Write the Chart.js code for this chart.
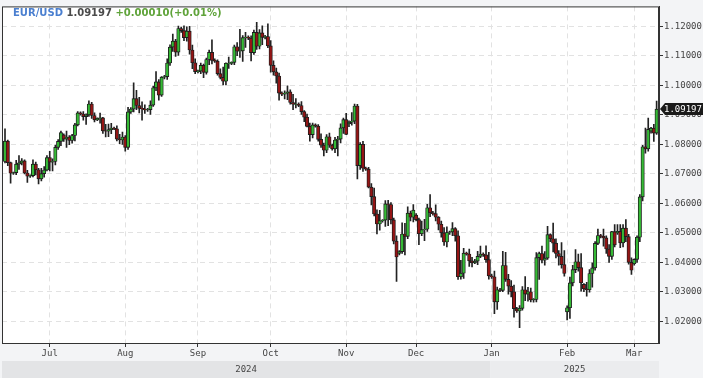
<!DOCTYPE html>
<html>
<head>
<meta charset="utf-8">
<script src="https://cdn.jsdelivr.net/npm/chart.js@4.4.1/dist/chart.umd.min.js"></script>
<style>
  html, body { margin: 0; padding: 0; background: #f3f4f6; }
  #wrap { position: relative; width: 703px; height: 378px; }
  #quote { position: absolute; left: 13px; top: 7px; font: bold 10px "DejaVu Sans", sans-serif; white-space: pre; }
  #quote .sym { color: #4a7fd0; }
  #quote .last { color: #4a4a4a; }
  #quote .chg { color: #5fa33a; }
</style>
</head>
<body>
<div id="wrap">
  <canvas id="myChart"></canvas>
  <div id="quote"><span class="sym">EUR/USD</span> <span class="last">1.09197</span> <span class="chg">+0.00010(+0.01%)</span></div>
</div>
<script>
// daily candles, Jun 12 2024 .. Mar 11 2025 (one row per week: Sun..Fri)
const opens = [
  1.0742, 1.0811, 1.0738,
  1.0702, 1.0704, 1.0733, 1.0737, 1.0744, 1.0703,
  1.0692, 1.0694, 1.0733, 1.0714, 1.0683, 1.0701,
  1.0713, 1.0755, 1.0740, 1.0742, 1.0790, 1.0810,
  1.0832, 1.0818, 1.0825, 1.0813, 1.0830, 1.0866,
  1.0907, 1.0903, 1.0894, 1.0900, 1.0937, 1.0898,
  1.0883, 1.0888, 1.0890, 1.0846, 1.0845, 1.0850,
  1.0855, 1.0853, 1.0818, 1.0815, 1.0825, 1.0790,
  1.0910, 1.0920, 1.0955, 1.0932, 1.0922, 1.0920,
  1.0917, 1.0918, 1.0933, 1.0992, 1.1012, 1.0967,
  1.1028, 1.1030, 1.1076, 1.1130, 1.1150, 1.1113,
  1.1193, 1.1186, 1.1162, 1.1184, 1.1120, 1.1077,
  1.1047, 1.1049, 1.1068, 1.1044, 1.1088, 1.1112,
  1.1085, 1.1082, 1.1040, 1.1027, 1.1014, 1.1075,
  1.1075, 1.1078, 1.1131, 1.1116, 1.1117, 1.1162,
  1.1164, 1.1160, 1.1111, 1.1180, 1.1133, 1.1178,
  1.1163, 1.1166, 1.1134, 1.1068, 1.1046, 1.1032,
  1.0974, 1.0970, 1.0974, 1.0978, 1.0942, 1.0936,
  1.0937, 1.0932, 1.0911, 1.0892, 1.0861, 1.0833,
  1.0866, 1.0862, 1.0817, 1.0797, 1.0780, 1.0826,
  1.0797, 1.0785, 1.0815, 1.0818, 1.0856, 1.0884,
  1.0870, 1.0875, 1.0879, 1.0930, 1.0728, 1.0800,
  1.0719, 1.0716, 1.0655, 1.0623, 1.0564, 1.0530,
  1.0541, 1.0543, 1.0598, 1.0596, 1.0544, 1.0472,
  1.0430, 1.0436, 1.0496, 1.0488, 1.0567, 1.0553,
  1.0560, 1.0545, 1.0497, 1.0511, 1.0512, 1.0585,
  1.0568, 1.0565, 1.0553, 1.0529, 1.0500, 1.0469,
  1.0501, 1.0503, 1.0514, 1.0490, 1.0351, 1.0363,
  1.0431, 1.0428, 1.0405, 1.0398, 1.0404, 1.0420,
  1.0428, 1.0425, 1.0409, 1.0354, 1.0351, 1.0266,
  1.0307, 1.0305, 1.0389, 1.0342, 1.0319, 1.0300,
  1.0243, 1.0235, 1.0244, 1.0307, 1.0292, 1.0300,
  1.0272, 1.0274, 1.0416, 1.0430, 1.0407, 1.0414,
  1.0494, 1.0480, 1.0465, 1.0430, 1.0420, 1.0392,
  1.0232, 1.0246, 1.0330, 1.0375, 1.0402, 1.0382,
  1.0325, 1.0310, 1.0307, 1.0362, 1.0381, 1.0464,
  1.0491, 1.0488, 1.0483, 1.0445, 1.0420, 1.0504,
  1.0500, 1.0505, 1.0466, 1.0516, 1.0487, 1.0400,
  1.0395, 1.0410, 1.0485, 1.0622, 1.0792, 1.0785,
  1.0845, 1.0855, 1.0838
];
const highs = [
  1.0853, 1.0815, 1.0740,
  1.0706, 1.0746, 1.0762, 1.0752, 1.0748, 1.0712,
  1.0697, 1.0748, 1.0740, 1.0719, 1.0719, 1.0725,
  1.0762, 1.0776, 1.0751, 1.0798, 1.0816, 1.0845,
  1.0836, 1.0845, 1.0830, 1.0834, 1.0871, 1.0911,
  1.0910, 1.0911, 1.0904, 1.0948, 1.0943, 1.0907,
  1.0890, 1.0906, 1.0892, 1.0868, 1.0869, 1.0871,
  1.0859, 1.0863, 1.0834, 1.0842, 1.0830, 1.0926,
  1.0925, 1.1009, 1.0983, 1.0960, 1.0944, 1.0934,
  1.0922, 1.0948, 1.0998, 1.1047, 1.1020, 1.1030,
  1.1034, 1.1090, 1.1138, 1.1174, 1.1156, 1.1201,
  1.1198, 1.1202, 1.1199, 1.1200, 1.1137, 1.1090,
  1.1052, 1.1076, 1.1072, 1.1093, 1.1120, 1.1155,
  1.1090, 1.1087, 1.1056, 1.1062, 1.1077, 1.1096,
  1.1080, 1.1137, 1.1145, 1.1190, 1.1169, 1.1180,
  1.1168, 1.1168, 1.1188, 1.1214, 1.1189, 1.1202,
  1.1170, 1.1209, 1.1152, 1.1083, 1.1059, 1.1042,
  1.0978, 1.0982, 1.0999, 1.0985, 1.0970, 1.0955,
  1.0941, 1.0945, 1.0915, 1.0903, 1.0872, 1.0872,
  1.0870, 1.0867, 1.0836, 1.0804, 1.0833, 1.0838,
  1.0801, 1.0824, 1.0827, 1.0870, 1.0889, 1.0905,
  1.0880, 1.0908, 1.0937, 1.0936, 1.0806, 1.0810,
  1.0723, 1.0722, 1.0667, 1.0652, 1.0578, 1.0576,
  1.0545, 1.0609, 1.0610, 1.0603, 1.0550, 1.0490,
  1.0440, 1.0534, 1.0532, 1.0588, 1.0574, 1.0596,
  1.0565, 1.0550, 1.0540, 1.0546, 1.0597, 1.0630,
  1.0573, 1.0595, 1.0555, 1.0540, 1.0518, 1.0520,
  1.0506, 1.0535, 1.0518, 1.0507, 1.0407, 1.0447,
  1.0435, 1.0445, 1.0417, 1.0410, 1.0437, 1.0455,
  1.0432, 1.0456, 1.0434, 1.0360, 1.0370, 1.0316,
  1.0312, 1.0437, 1.0434, 1.0359, 1.0338, 1.0323,
  1.0247, 1.0253, 1.0318, 1.0352, 1.0315, 1.0313,
  1.0277, 1.0433, 1.0435, 1.0455, 1.0436, 1.0522,
  1.0497, 1.0533, 1.0480, 1.0440, 1.0467, 1.0440,
  1.0252, 1.0350, 1.0390, 1.0443, 1.0428, 1.0430,
  1.0328, 1.0332, 1.0375, 1.0398, 1.0470, 1.0513,
  1.0495, 1.0513, 1.0490, 1.0460, 1.0505, 1.0528,
  1.0528, 1.0528, 1.0528, 1.0545, 1.0495, 1.0415,
  1.0412, 1.0490, 1.0630, 1.0797, 1.0855, 1.0889,
  1.0858, 1.0868, 1.0947
];
const lows = [
  1.0737, 1.0728, 1.0668,
  1.0698, 1.0697, 1.0715, 1.0730, 1.0700, 1.0671,
  1.0688, 1.0690, 1.0696, 1.0666, 1.0676, 1.0689,
  1.0710, 1.0710, 1.0710, 1.0730, 1.0783, 1.0796,
  1.0810, 1.0790, 1.0799, 1.0804, 1.0812, 1.0863,
  1.0899, 1.0882, 1.0868, 1.0895, 1.0888, 1.0876,
  1.0880, 1.0872, 1.0837, 1.0825, 1.0826, 1.0836,
  1.0850, 1.0812, 1.0802, 1.0800, 1.0777, 1.0783,
  1.0905, 1.0910, 1.0918, 1.0907, 1.0882, 1.0905,
  1.0912, 1.0902, 1.0929, 1.0982, 1.0950, 1.0963,
  1.1022, 1.1020, 1.1068, 1.1115, 1.1098, 1.1102,
  1.1180, 1.1152, 1.1150, 1.1106, 1.1057, 1.1040,
  1.1042, 1.1040, 1.1026, 1.1038, 1.1070, 1.1073,
  1.1078, 1.1035, 1.1022, 1.1002, 1.1002, 1.1058,
  1.1070, 1.1070, 1.1101, 1.1095, 1.1081, 1.1129,
  1.1155, 1.1083, 1.1105, 1.1122, 1.1124, 1.1138,
  1.1158, 1.1128, 1.1045, 1.1035, 1.1008, 1.0950,
  1.0965, 1.0954, 1.0952, 1.0936, 1.0918, 1.0924,
  1.0928, 1.0902, 1.0877, 1.0859, 1.0811, 1.0822,
  1.0858, 1.0811, 1.0790, 1.0761, 1.0772, 1.0790,
  1.0780, 1.0772, 1.0761, 1.0805, 1.0837, 1.0833,
  1.0860, 1.0865, 1.0870, 1.0683, 1.0715, 1.0708,
  1.0712, 1.0652, 1.0595, 1.0557, 1.0496, 1.0509,
  1.0536, 1.0522, 1.0524, 1.0530, 1.0462, 1.0335,
  1.0425, 1.0430, 1.0425, 1.0480, 1.0540, 1.0537,
  1.0540, 1.0460, 1.0490, 1.0473, 1.0505, 1.0555,
  1.0560, 1.0540, 1.0510, 1.0485, 1.0457, 1.0452,
  1.0495, 1.0490, 1.0472, 1.0342, 1.0343, 1.0345,
  1.0424, 1.0386, 1.0384, 1.0395, 1.0392, 1.0416,
  1.0420, 1.0400, 1.0343, 1.0345, 1.0226, 1.0240,
  1.0300, 1.0300, 1.0335, 1.0292, 1.0283, 1.0214,
  1.0230, 1.0178, 1.0238, 1.0270, 1.0268, 1.0266,
  1.0265, 1.0266, 1.0342, 1.0398, 1.0390, 1.0410,
  1.0470, 1.0435, 1.0415, 1.0390, 1.0380, 1.0353,
  1.0205, 1.0210, 1.0320, 1.0365, 1.0370, 1.0302,
  1.0300, 1.0285, 1.0299, 1.0316, 1.0373, 1.0460,
  1.0483, 1.0455, 1.0430, 1.0400, 1.0410, 1.0452,
  1.0495, 1.0450, 1.0452, 1.0470, 1.0394, 1.0359,
  1.0390, 1.0400, 1.0470, 1.0608, 1.0770, 1.0777,
  1.0838, 1.0810, 1.0834
];
const closes = [
  1.0811, 1.0738, 1.0702,
  1.0704, 1.0733, 1.0737, 1.0744, 1.0703, 1.0692,
  1.0694, 1.0733, 1.0714, 1.0683, 1.0701, 1.0713,
  1.0755, 1.0740, 1.0742, 1.0790, 1.0810, 1.0840,
  1.0818, 1.0825, 1.0813, 1.0830, 1.0866, 1.0907,
  1.0903, 1.0894, 1.0900, 1.0937, 1.0898, 1.0883,
  1.0888, 1.0890, 1.0846, 1.0845, 1.0850, 1.0855,
  1.0853, 1.0818, 1.0815, 1.0825, 1.0790, 1.0910,
  1.0920, 1.0955, 1.0932, 1.0922, 1.0920, 1.0917,
  1.0918, 1.0933, 1.0992, 1.1012, 1.0967, 1.1028,
  1.1030, 1.1076, 1.1130, 1.1150, 1.1113, 1.1193,
  1.1186, 1.1162, 1.1184, 1.1120, 1.1077, 1.1047,
  1.1049, 1.1068, 1.1044, 1.1088, 1.1112, 1.1085,
  1.1082, 1.1040, 1.1027, 1.1014, 1.1075, 1.1075,
  1.1078, 1.1131, 1.1116, 1.1117, 1.1162, 1.1164,
  1.1160, 1.1111, 1.1180, 1.1133, 1.1178, 1.1163,
  1.1166, 1.1134, 1.1068, 1.1046, 1.1032, 1.0974,
  1.0970, 1.0974, 1.0978, 1.0942, 1.0936, 1.0937,
  1.0932, 1.0911, 1.0892, 1.0861, 1.0833, 1.0866,
  1.0862, 1.0817, 1.0797, 1.0780, 1.0826, 1.0797,
  1.0785, 1.0815, 1.0818, 1.0856, 1.0884, 1.0834,
  1.0875, 1.0879, 1.0930, 1.0728, 1.0800, 1.0719,
  1.0716, 1.0655, 1.0623, 1.0564, 1.0530, 1.0541,
  1.0543, 1.0598, 1.0596, 1.0544, 1.0472, 1.0418,
  1.0436, 1.0496, 1.0488, 1.0567, 1.0553, 1.0577,
  1.0545, 1.0497, 1.0511, 1.0512, 1.0585, 1.0568,
  1.0565, 1.0553, 1.0529, 1.0500, 1.0469, 1.0501,
  1.0503, 1.0514, 1.0490, 1.0351, 1.0363, 1.0431,
  1.0428, 1.0405, 1.0398, 1.0404, 1.0420, 1.0428,
  1.0425, 1.0409, 1.0354, 1.0351, 1.0266, 1.0307,
  1.0305, 1.0389, 1.0342, 1.0319, 1.0300, 1.0243,
  1.0235, 1.0244, 1.0307, 1.0292, 1.0300, 1.0272,
  1.0274, 1.0416, 1.0430, 1.0407, 1.0414, 1.0494,
  1.0480, 1.0465, 1.0430, 1.0420, 1.0392, 1.0362,
  1.0246, 1.0330, 1.0375, 1.0402, 1.0382, 1.0330,
  1.0310, 1.0307, 1.0362, 1.0381, 1.0464, 1.0491,
  1.0488, 1.0483, 1.0445, 1.0420, 1.0504, 1.0459,
  1.0505, 1.0466, 1.0516, 1.0487, 1.0400, 1.0373,
  1.0410, 1.0485, 1.0622, 1.0792, 1.0785, 1.0851,
  1.0855, 1.0838, 1.09197
];

// axes
const monthLabels = ["Jul", "Aug", "Sep", "Oct", "Nov", "Dec", "Jan", "Feb", "Mar"];
const monthIndex = [16, 43, 69, 95, 122, 147, 174, 201, 225];
const yearLabels = ["2024", "2025"];
const yearBounds = [-1.073, 173.5, 233.85];
const priceTicks = [1.02, 1.03, 1.04, 1.05, 1.06, 1.07, 1.08, 1.09, 1.10, 1.11, 1.12];
const lastPrice = 1.09197;

const UP = "#35b935";
const DOWN = "#951515";
const EDGE = "#1d1d1d";
const MONO = "'DejaVu Sans Mono', monospace";

const wickData = highs.map((h, i) => ({ x: i, y: [lows[i], h] }));
const bodyData = opens.map((o, i) => {
  const c = closes[i];
  let lo = Math.min(o, c), hi = Math.max(o, c);
  if (hi - lo < 0.00012) { const m = (hi + lo) / 2; lo = m - 0.00006; hi = m + 0.00006; }
  return { x: i, y: [lo, hi] };
});
const bodyColors = opens.map((o, i) => (closes[i] >= o ? UP : DOWN));

//plot background and year band
const backdrop = {
  id: "backdrop",
  beforeDraw(chart) {
    const { ctx, chartArea: a, scales } = chart;
    ctx.save();
    ctx.fillStyle = "#ffffff";
    ctx.fillRect(a.left, a.top, a.right - a.left, a.bottom - a.top);
    const bandTop = 361, bandH = chart.height - bandTop;
    const bandCols = ["#e3e4e6", "#ebecee"];
    for (let k = 0; k < yearLabels.length; k++) {
      const x1 = scales.x.getPixelForValue(yearBounds[k]);
      const x2 = scales.x.getPixelForValue(yearBounds[k + 1]);
      ctx.fillStyle = bandCols[k];
      ctx.fillRect(x1, bandTop, x2 - x1, bandH);
      ctx.fillStyle = "#444";
      ctx.font = "9px " + MONO;
      ctx.textAlign = "center";
      ctx.textBaseline = "middle";
      ctx.fillText(yearLabels[k], (x1 + x2) / 2, bandTop + 9);
    }
    ctx.restore();
  },
  afterDraw(chart) {
    const { ctx, chartArea: a, scales } = chart;
    ctx.save();
    ctx.strokeStyle = "#333";
    ctx.lineWidth = 1;
    ctx.strokeRect(a.left + 0.5, a.top + 0.5, a.right - a.left - 1, a.bottom - a.top);
    // last price marker
    const y = Math.round(scales.y.getPixelForValue(lastPrice));
    ctx.fillStyle = "#1a1a1a";
    ctx.beginPath();
    ctx.moveTo(a.right + 1, y);
    ctx.lineTo(a.right + 6, y - 6);
    ctx.lineTo(chart.width, y - 6);
    ctx.lineTo(chart.width, y + 6);
    ctx.lineTo(a.right + 6, y + 6);
    ctx.closePath();
    ctx.fill();
    ctx.fillStyle = "#ffffff";
    ctx.font = "9px " + MONO;
    ctx.textAlign = "left";
    ctx.textBaseline = "middle";
    ctx.fillText(lastPrice.toFixed(5), a.right + 5, y + 0.5);
    ctx.restore();
  }
};

const ctx = document.getElementById("myChart").getContext("2d");
const myChart = new Chart(ctx, {
  type: "bar",
  data: {
    datasets: [
      {
        label: "wick",
        data: wickData,
        backgroundColor: "#222",
        borderWidth: 0,
        barThickness: 1,
        grouped: false,
        order: 2,
      },
      {
        label: "body",
        data: bodyData,
        backgroundColor: bodyColors,
        borderColor: EDGE,
        borderWidth: 0.9,
        borderSkipped: false,
        barThickness: 3.4,
        grouped: false,
        order: 1,
      },
    ],
  },
  options: {
    responsive: true,
    maintainAspectRatio: false,
    animation: false,
    layout: { padding: { left: 2, top: 2, right: 0, bottom: 0 } },
    plugins: { legend: { display: false }, tooltip: { enabled: false } },
    scales: {
      x: {
        type: "linear",
        offset: false,
        min: yearBounds[0],
        max: yearBounds[2],
        afterBuildTicks: (s) => { s.ticks = monthIndex.map((v) => ({ value: v })); },
        afterFit: (s) => { s.height = 35; },
        grid: { offset: false, color: "#e2e2e2", tickColor: "#333", tickLength: 4 },
        border: { color: "#333", dash: [5, 4] },
        ticks: {
          autoSkip: false,
          maxRotation: 0,
          padding: 1,
          color: "#444",
          font: { family: MONO, size: 9 },
          callback: (v) => monthLabels[monthIndex.indexOf(v)],
        },
      },
      y: {
        position: "right",
        min: 1.01263,
        max: 1.1268,
        afterBuildTicks: (s) => { s.ticks = priceTicks.map((v) => ({ value: v })); },
        afterFit: (s) => { s.width = 44; },
        grid: { color: "#e2e2e2", tickColor: "#333", tickLength: 4 },
        border: { color: "#333", dash: [5, 4] },
        ticks: {
          padding: 1,
          color: "#444",
          font: { family: MONO, size: 9 },
          callback: (v) => v.toFixed(5),
        },
      },
    },
  },
  plugins: [backdrop],
});
</script>
</body>
</html>
